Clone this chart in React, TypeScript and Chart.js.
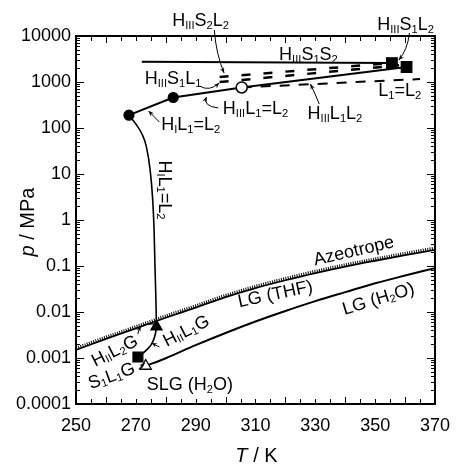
import React, { useEffect, useRef } from 'react';
import { Chart, registerables } from 'chart.js';

Chart.register(...registerables);

const FONT = '"Liberation Sans", Arial, Helvetica, sans-serif';

// ---- axes ----
const xMin = 250;
const xMax = 370;
const xStep = 20;
const yTickValues = [0.0001, 0.001, 0.01, 0.1, 1, 10, 100, 1000, 10000];
const yTickLabels = ['0.0001', '0.001', '0.01', '0.1', '1', '10', '100', '1000', '10000'];

// ---- curves: temperature T (K) and pressure p (MPa) ----
const hiiiS1S2T = [272.0, 355.6];
const hiiiS1S2P = [2750, 2580];

const hiiiS2L2T = [298.0, 355.6];
const hiiiS2L2P = [1290, 2580];

const hiiiS1L1T = [298.0, 358.0];
const hiiiS1L1P = [1000, 2300];

const l1eqL2T = [305.4, 365.0];
const l1eqL2P = [760, 1160];

const hiiiL1eqL2T = [282.5, 305.4, 360.5];
const hiiiL1eqL2P = [460, 760, 2120];

const hiL1eqL2T = [267.7, 282.5];
const hiL1eqL2P = [190, 460];

const hiVertT = [267.7, 269.0, 270.5, 272.0, 273.5, 274.8, 275.6, 276.1, 276.4, 276.7, 276.9];
const hiVertP = [190, 150, 110, 75, 40, 12, 3, 0.6, 0.1, 0.02, 0.0048];

const hiiL1GT = [270.7, 273.6, 275.6, 276.6, 276.9];
const hiiL1GP = [0.00105, 0.0015, 0.0022, 0.0035, 0.0048];

const hiiL2GT = [271.0, 273.6, 275.5, 276.9];
const hiiL2GP = [0.0047, 0.0054, 0.0055, 0.0052];

const azeoT = [250, 260, 270, 280, 290, 300, 310, 320, 330, 340, 350, 360, 370];
const azeoP = [0.0015, 0.0026, 0.0044, 0.0075, 0.0125, 0.021, 0.033, 0.049, 0.07, 0.097, 0.13, 0.172, 0.225];

const lgH2OT = [273.3, 280, 290, 300, 310, 320, 330, 340, 350, 360, 370];
const lgH2OP = [0.00067, 0.00099, 0.0019, 0.0035, 0.0062, 0.0105, 0.0172, 0.027, 0.042, 0.062, 0.09];

// ---- special points ----
const filledCircleT = [267.7, 282.5];
const filledCircleP = [190, 460];
const openCircleT = [305.4];
const openCircleP = [760];
const squareHighT = [355.6, 360.5];
const squareHighP = [2580, 2120];
const squareLowT = [270.7];
const squareLowP = [0.00105];
const filledTriT = [276.9];
const filledTriP = [0.0048];
const openTriT = [273.3];
const openTriP = [0.00067];

const pts = (T: number[], P: number[]) => T.map((t, i) => ({ x: t, y: P[i] }));

// ---- annotations (reference-pixel placement) ----
const labels = [
  { t: 'H_{III}S_{2}L_{2}', x: 203, y: 20, r: 0 },
  { t: 'H_{III}S_{1}L_{2}', x: 412, y: 24, r: 0 },
  { t: 'H_{III}S_{1}S_{2}', x: 313, y: 54, r: 0 },
  { t: 'H_{III}S_{1}L_{1}', x: 175, y: 78, r: 0 },
  { t: 'H_{III}L_{1}=L_{2}', x: 259, y: 108, r: 0 },
  { t: 'H_{III}L_{1}L_{2}', x: 340, y: 113, r: 0 },
  { t: 'L_{1}=L_{2}', x: 406, y: 90, r: 0 },
  { t: 'H_{I}L_{1}=L_{2}', x: 193, y: 124, r: 0 },
  { t: 'H_{I}L_{1}=L_{2}', x: 167, y: 190, r: 90 },
  { t: 'Azeotrope', x: 359, y: 250, r: -13 },
  { t: 'LG (THF)', x: 279, y: 293, r: -12 },
  { t: 'LG (H_{2}O)', x: 384, y: 298, r: -17 },
  { t: 'H_{II}L_{1}G', x: 188, y: 330, r: -27 },
  { t: 'H_{II}L_{2}G', x: 115, y: 350, r: -27 },
  { t: 'S_{1}L_{1}G', x: 112, y: 375, r: -20 },
  { t: 'SLG (H_{2}O)', x: 192, y: 384, r: 0 },
];

const arrows: number[][][] = [
  [[217, 30], [219, 55], [227, 73]],
  [[416, 33], [414, 50], [405, 60]],
  [[202, 86], [212, 92], [222, 83]],
  [[221, 108], [205, 106], [209, 97]],
  [[324, 104], [320, 94], [315, 84]],
  [[161, 122], [155, 116], [150, 111]],
  [[139, 334], [140, 330], [142, 326]],
  [[140, 369], [143, 366], [146, 363]],
  [[161, 347], [157, 345], [153, 343]],
];

function parseRich(s: string) {
  const segs: { t: string; sub: boolean }[] = [];
  const re = /_\{([^}]*)\}|([^_]+)/g;
  let m: RegExpExecArray | null;
  while ((m = re.exec(s))) {
    if (m[1] !== undefined) segs.push({ t: m[1], sub: true });
    else segs.push({ t: m[2], sub: false });
  }
  return segs;
}

function drawRich(ctx: CanvasRenderingContext2D, s: string, x: number, y: number, size: number, rot: number) {
  const segs = parseRich(s);
  const subSize = size * 0.62;
  let w = 0;
  for (const g of segs) {
    ctx.font = `${g.sub ? subSize : size}px ${FONT}`;
    w += ctx.measureText(g.t).width;
  }
  ctx.save();
  ctx.translate(x, y);
  ctx.rotate((rot * Math.PI) / 180);
  ctx.fillStyle = '#000';
  ctx.textAlign = 'left';
  ctx.textBaseline = 'alphabetic';
  let cx = -w / 2;
  const base = size * 0.36;
  for (const g of segs) {
    ctx.font = `${g.sub ? subSize : size}px ${FONT}`;
    ctx.fillText(g.t, cx, g.sub ? base + size * 0.12 : base);
    cx += ctx.measureText(g.t).width;
  }
  ctx.restore();
}

function drawTitle(ctx: CanvasRenderingContext2D, segs: { t: string; it: boolean }[], x: number, y: number, size: number, rot: number) {
  let w = 0;
  for (const g of segs) {
    ctx.font = `${g.it ? 'italic ' : ''}${size}px ${FONT}`;
    w += ctx.measureText(g.t).width;
  }
  ctx.save();
  ctx.translate(x, y);
  ctx.rotate((rot * Math.PI) / 180);
  ctx.fillStyle = '#000';
  ctx.textAlign = 'left';
  ctx.textBaseline = 'alphabetic';
  let cx = -w / 2;
  for (const g of segs) {
    ctx.font = `${g.it ? 'italic ' : ''}${size}px ${FONT}`;
    ctx.fillText(g.t, cx, size * 0.36);
    cx += ctx.measureText(g.t).width;
  }
  ctx.restore();
}

const AZEO_DOT_INDEX = 1;

const shiftPlugin = {
  id: 'shiftDots',
  beforeDatasetDraw(chart: any, args: any) {
    if (args.index === AZEO_DOT_INDEX) {
      chart.ctx.save();
      chart.ctx.translate(0, -1.8);
    }
  },
  afterDatasetDraw(chart: any, args: any) {
    if (args.index === AZEO_DOT_INDEX) chart.ctx.restore();
  },
};

const decorPlugin = {
  id: 'decor',
  afterDraw(chart: any) {
    const ctx: CanvasRenderingContext2D = chart.ctx;
    const ca = chart.chartArea;
    const xs = chart.scales.x;
    const ys = chart.scales.y;
    const mx = (x: number) => ca.left + ((x - 76) * ca.width) / 366;
    const my = (y: number) => ca.top + ((y - 36) * ca.height) / 368;

    ctx.save();
    ctx.strokeStyle = '#000';
    // ticks
    ctx.lineWidth = 1;
    ctx.beginPath();
    for (let t = xMin; t <= xMax; t += 5) {
      const px = Math.round(xs.getPixelForValue(t)) + 0.5;
      const len = t % xStep === 0 ? 7 : 5;
      ctx.moveTo(px, ca.bottom);
      ctx.lineTo(px, ca.bottom - len);
      ctx.moveTo(px, ca.top);
      ctx.lineTo(px, ca.top + len);
    }
    for (let d = -4; d <= 3; d++) {
      for (let k = 1; k <= 9; k++) {
        const v = k * Math.pow(10, d);
        const py = Math.round(ys.getPixelForValue(v)) + 0.5;
        const len = k === 1 ? 8 : 4;
        ctx.moveTo(ca.left, py);
        ctx.lineTo(ca.left + len, py);
        ctx.moveTo(ca.right, py);
        ctx.lineTo(ca.right - len, py);
      }
    }
    ctx.stroke();
    // frame
    ctx.lineWidth = 2;
    ctx.strokeRect(ca.left, ca.top, ca.width, ca.height);

    // arrows
    ctx.lineWidth = 1;
    ctx.fillStyle = '#000';
    for (const a of arrows) {
      const p0 = [mx(a[0][0]), my(a[0][1])];
      const p1 = [mx(a[1][0]), my(a[1][1])];
      const p2 = [mx(a[2][0]), my(a[2][1])];
      ctx.beginPath();
      ctx.moveTo(p0[0], p0[1]);
      ctx.quadraticCurveTo(p1[0], p1[1], p2[0], p2[1]);
      ctx.stroke();
      const ang = Math.atan2(p2[1] - p1[1], p2[0] - p1[0]);
      const hl = 6;
      const ha = 0.4;
      ctx.beginPath();
      ctx.moveTo(p2[0], p2[1]);
      ctx.lineTo(p2[0] - hl * Math.cos(ang - ha), p2[1] - hl * Math.sin(ang - ha));
      ctx.lineTo(p2[0] - hl * 0.6 * Math.cos(ang), p2[1] - hl * 0.6 * Math.sin(ang));
      ctx.lineTo(p2[0] - hl * Math.cos(ang + ha), p2[1] - hl * Math.sin(ang + ha));
      ctx.closePath();
      ctx.fill();
    }

    // labels
    for (const L of labels) drawRich(ctx, L.t, mx(L.x), my(L.y), 18, L.r);

    // axis titles
    drawTitle(ctx, [{ t: 'p', it: true }, { t: ' / MPa', it: false }], 27, my(222), 20, -90);
    drawTitle(ctx, [{ t: 'T', it: true }, { t: ' / K', it: false }], mx(260), 455, 20, 0);
    ctx.restore();
  },
};

export default function App() {
  const ref = useRef<HTMLCanvasElement | null>(null);
  useEffect(() => {
    if (!ref.current) return;
    const line = (T: number[], P: number[], extra: any = {}) => ({
      data: pts(T, P),
      showLine: true,
      pointRadius: 0,
      borderColor: '#000',
      backgroundColor: '#000',
      borderWidth: 2,
      fill: false,
      order: 1,
      ...extra,
    });
    const marker = (T: number[], P: number[], style: string, r: number, fillC: string, bw = 1.2) => ({
      data: pts(T, P),
      showLine: false,
      pointStyle: style,
      pointRadius: r,
      pointBackgroundColor: fillC,
      pointBorderColor: '#000',
      pointBorderWidth: bw,
      order: 0,
    });
    const chart = new Chart(ref.current, {
      type: 'scatter',
      data: {
        datasets: [
          line(azeoT, azeoP, { borderWidth: 1.8, cubicInterpolationMode: 'monotone' }),
          line(azeoT, azeoP, { borderWidth: 3, borderDash: [1, 1.3], cubicInterpolationMode: 'monotone' }),
          line(lgH2OT, lgH2OP, { borderWidth: 2, cubicInterpolationMode: 'monotone' }),
          line(hiiiS1S2T, hiiiS1S2P, { borderWidth: 2 }),
          line(hiiiS2L2T, hiiiS2L2P, { borderWidth: 2.5, borderDash: [9, 13] }),
          line(hiiiS1L1T, hiiiS1L1P, { borderWidth: 2.5, borderDash: [9, 13] }),
          line(l1eqL2T, l1eqL2P, { borderWidth: 2, borderDash: [10, 9] }),
          line(hiiiL1eqL2T, hiiiL1eqL2P, { borderWidth: 2 }),
          line(hiL1eqL2T, hiL1eqL2P, { borderWidth: 2 }),
          line(hiVertT, hiVertP, { borderWidth: 1.6, cubicInterpolationMode: 'monotone' }),
          line(hiiL1GT, hiiL1GP, { borderWidth: 1.6, cubicInterpolationMode: 'monotone' }),
          line(hiiL2GT, hiiL2GP, { borderWidth: 1.2, cubicInterpolationMode: 'monotone' }),
          marker(filledCircleT, filledCircleP, 'circle', 5, '#000'),
          marker(openCircleT, openCircleP, 'circle', 5.5, '#fff', 1.5),
          marker(squareHighT, squareHighP, 'rect', 7.5, '#000'),
          marker(squareLowT, squareLowP, 'rect', 7, '#000'),
          marker(filledTriT, filledTriP, 'triangle', 6.5, '#000'),
          marker(openTriT, openTriP, 'triangle', 6.5, '#fff', 1.3),
        ] as any,
      },
      options: {
        animation: false,
        responsive: false,
        maintainAspectRatio: false,
        layout: { padding: { top: 36, right: 19, left: 0, bottom: 0 } },
        plugins: { legend: { display: false }, tooltip: { enabled: false } },
        scales: {
          x: {
            type: 'linear',
            min: xMin,
            max: xMax,
            grid: { display: false, drawTicks: false },
            border: { display: false },
            ticks: { stepSize: xStep, padding: 11, color: '#000', font: { family: FONT, size: 18 }, maxRotation: 0 },
            afterFit: (s: any) => {
              s.height = 62;
            },
          },
          y: {
            type: 'logarithmic',
            min: 0.0001,
            max: 10000,
            grid: { display: false, drawTicks: false },
            border: { display: false },
            ticks: {
              padding: 5,
              color: '#000',
              font: { family: FONT, size: 18 },
              autoSkip: false,
              callback: (v: any) => {
                const i = yTickValues.findIndex((t) => Math.abs(Math.log10(t) - Math.log10(v)) < 1e-6);
                return i >= 0 ? yTickLabels[i] : '';
              },
            },
            afterBuildTicks: (s: any) => {
              s.ticks = yTickValues.map((v) => ({ value: v }));
            },
            afterFit: (s: any) => {
              s.width = 76;
            },
          },
        },
      },
      plugins: [shiftPlugin, decorPlugin],
    } as any);
    return () => chart.destroy();
  }, []);
  return (
    <div style={{ position: 'fixed', left: 0, top: 0, width: 461, height: 466, background: '#fff' }}>
      <canvas ref={ref} width={461} height={466} style={{ width: 461, height: 466, display: 'block' }} />
    </div>
  );
}
